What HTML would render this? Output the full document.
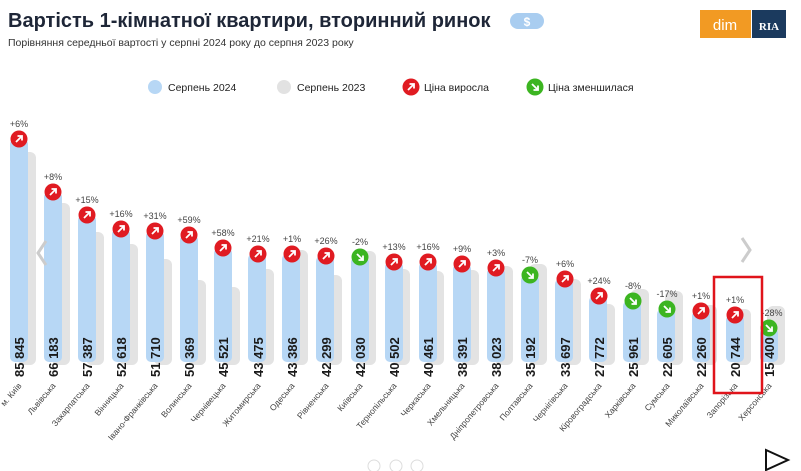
<!DOCTYPE html>
<html><head><meta charset="utf-8"><style>
body{margin:0;background:#fff;}
svg{display:block;font-family:"Liberation Sans",sans-serif;}
</style></head><body>
<svg width="801" height="471" viewBox="0 0 801 471" xmlns="http://www.w3.org/2000/svg">
<defs>
<g id="up"><circle r="8.5" fill="#e01b22"/><path d="M-3,3 L3,-3 M-1.5,-3 H3 V1.5" stroke="#fff" stroke-width="1.8" fill="none"/></g>
<g id="dn"><circle r="8.5" fill="#3cb521"/><path d="M-3,-3 L3,3 M3,-1.5 V3 H-1.5" stroke="#fff" stroke-width="1.8" fill="none"/></g>
</defs>
<text x="8" y="27" font-size="20" font-weight="bold" fill="#1e2637">Вартість 1-кімнатної квартири, вторинний ринок</text>
<rect x="510" y="13" width="34" height="16" rx="8" fill="#a9cdf0"/><text x="527" y="26" font-size="12" font-weight="bold" fill="#fff" text-anchor="middle">$</text>
<text x="8" y="46" font-size="10.5" fill="#333">Порівняння середньої вартості у серпні 2024 року до серпня 2023 року</text>
<rect x="700" y="10" width="51" height="28" fill="#f29a23"/><text x="725" y="30" font-size="15" fill="#fff" text-anchor="middle">dim</text>
<rect x="752" y="10" width="34" height="28" fill="#1b3a5e"/><text x="769" y="30" font-size="11" font-weight="bold" fill="#fff" text-anchor="middle" font-family="Liberation Serif">RIA</text>
<circle cx="155" cy="87" r="7" fill="#b7d7f5"/><text x="168" y="91" font-size="10.5" fill="#222">Серпень 2024</text>
<circle cx="284" cy="87" r="7" fill="#e2e2e2"/><text x="297" y="91" font-size="10.5" fill="#222">Серпень 2023</text>
<use href="#up" x="411" y="87" transform=""/><text x="424" y="91" font-size="10.5" fill="#222">Ціна виросла</text>
<use href="#dn" x="535" y="87"/><text x="548" y="91" font-size="10.5" fill="#222">Ціна зменшилася</text>

<g fill="#e3e3e3">
<rect x="18" y="152" width="18" height="213" rx="6"/>
<rect x="52" y="203" width="18" height="162" rx="6"/>
<rect x="86" y="232" width="18" height="133" rx="6"/>
<rect x="120" y="244" width="18" height="121" rx="6"/>
<rect x="154" y="259" width="18" height="106" rx="6"/>
<rect x="188" y="280" width="18" height="85" rx="6"/>
<rect x="222" y="287" width="18" height="78" rx="6"/>
<rect x="256" y="269" width="18" height="96" rx="6"/>
<rect x="290" y="250" width="18" height="115" rx="6"/>
<rect x="324" y="275" width="18" height="90" rx="6"/>
<rect x="358" y="251" width="18" height="114" rx="6"/>
<rect x="392" y="269" width="18" height="96" rx="6"/>
<rect x="426" y="271" width="18" height="94" rx="6"/>
<rect x="461" y="270" width="18" height="95" rx="6"/>
<rect x="495" y="266" width="18" height="99" rx="6"/>
<rect x="529" y="264" width="18" height="101" rx="6"/>
<rect x="563" y="279" width="18" height="86" rx="6"/>
<rect x="597" y="304" width="18" height="61" rx="6"/>
<rect x="631" y="289" width="18" height="76" rx="6"/>
<rect x="665" y="291" width="18" height="74" rx="6"/>
<rect x="699" y="305" width="18" height="60" rx="6"/>
<rect x="733" y="309" width="18" height="56" rx="6"/>
<rect x="767" y="306" width="18" height="59" rx="6"/>
</g>
<g fill="#b7d7f5">
<rect x="10" y="139" width="18" height="223" rx="5"/>
<rect x="44" y="192" width="18" height="170" rx="5"/>
<rect x="78" y="215" width="18" height="147" rx="5"/>
<rect x="112" y="229" width="18" height="133" rx="5"/>
<rect x="146" y="231" width="18" height="131" rx="5"/>
<rect x="180" y="235" width="18" height="127" rx="5"/>
<rect x="214" y="248" width="18" height="114" rx="5"/>
<rect x="248" y="254" width="18" height="108" rx="5"/>
<rect x="282" y="254" width="18" height="108" rx="5"/>
<rect x="316" y="256" width="18" height="106" rx="5"/>
<rect x="351" y="257" width="18" height="105" rx="5"/>
<rect x="385" y="262" width="18" height="100" rx="5"/>
<rect x="419" y="262" width="18" height="100" rx="5"/>
<rect x="453" y="264" width="18" height="98" rx="5"/>
<rect x="487" y="268" width="18" height="94" rx="5"/>
<rect x="521" y="275" width="18" height="87" rx="5"/>
<rect x="555" y="279" width="18" height="83" rx="5"/>
<rect x="589" y="296" width="18" height="66" rx="5"/>
<rect x="623" y="301" width="18" height="61" rx="5"/>
<rect x="657" y="309" width="18" height="53" rx="5"/>
<rect x="692" y="311" width="18" height="51" rx="5"/>
<rect x="726" y="315" width="18" height="47" rx="5"/>
<rect x="760" y="328" width="18" height="34" rx="5"/>
</g>
<use href="#up" x="19" y="139"/><use href="#up" x="53" y="192"/><use href="#up" x="87" y="215"/><use href="#up" x="121" y="229"/><use href="#up" x="155" y="231"/><use href="#up" x="189" y="235"/><use href="#up" x="223" y="248"/><use href="#up" x="258" y="254"/><use href="#up" x="292" y="254"/><use href="#up" x="326" y="256"/><use href="#dn" x="360" y="257"/><use href="#up" x="394" y="262"/><use href="#up" x="428" y="262"/><use href="#up" x="462" y="264"/><use href="#up" x="496" y="268"/><use href="#dn" x="530" y="275"/><use href="#up" x="565" y="279"/><use href="#up" x="599" y="296"/><use href="#dn" x="633" y="301"/><use href="#dn" x="667" y="309"/><use href="#up" x="701" y="311"/><use href="#up" x="735" y="315"/><use href="#dn" x="769" y="328"/>
<g font-size="9" fill="#444" text-anchor="middle">
<text x="19" y="127">+6%</text><text x="53" y="180">+8%</text><text x="87" y="203">+15%</text><text x="121" y="217">+16%</text><text x="155" y="219">+31%</text><text x="189" y="223">+59%</text><text x="223" y="236">+58%</text><text x="258" y="242">+21%</text><text x="292" y="242">+1%</text><text x="326" y="244">+26%</text><text x="360" y="245">-2%</text><text x="394" y="250">+13%</text><text x="428" y="250">+16%</text><text x="462" y="252">+9%</text><text x="496" y="256">+3%</text><text x="530" y="263">-7%</text><text x="565" y="267">+6%</text><text x="599" y="284">+24%</text><text x="633" y="289">-8%</text><text x="667" y="297">-17%</text><text x="701" y="299">+1%</text><text x="735" y="303">+1%</text><text x="772" y="316">-28%</text>
</g>
<g font-size="13" font-weight="bold" fill="#1a1a1a">
<text transform="translate(24,377) rotate(-90)">85 845</text>
<text transform="translate(58,377) rotate(-90)">66 183</text>
<text transform="translate(92,377) rotate(-90)">57 387</text>
<text transform="translate(126,377) rotate(-90)">52 618</text>
<text transform="translate(160,377) rotate(-90)">51 710</text>
<text transform="translate(194,377) rotate(-90)">50 369</text>
<text transform="translate(228,377) rotate(-90)">45 521</text>
<text transform="translate(263,377) rotate(-90)">43 475</text>
<text transform="translate(297,377) rotate(-90)">43 386</text>
<text transform="translate(331,377) rotate(-90)">42 299</text>
<text transform="translate(365,377) rotate(-90)">42 030</text>
<text transform="translate(399,377) rotate(-90)">40 502</text>
<text transform="translate(433,377) rotate(-90)">40 461</text>
<text transform="translate(467,377) rotate(-90)">38 391</text>
<text transform="translate(501,377) rotate(-90)">38 023</text>
<text transform="translate(535,377) rotate(-90)">35 192</text>
<text transform="translate(570,377) rotate(-90)">33 697</text>
<text transform="translate(604,377) rotate(-90)">27 772</text>
<text transform="translate(638,377) rotate(-90)">25 961</text>
<text transform="translate(672,377) rotate(-90)">22 605</text>
<text transform="translate(706,377) rotate(-90)">22 260</text>
<text transform="translate(740,377) rotate(-90)">20 744</text>
<text transform="translate(774,377) rotate(-90)">15 400</text>
</g>
<g font-size="8.5" fill="#444" text-anchor="end">
<text transform="translate(22,386) rotate(-50)">м. Київ</text>
<text transform="translate(56,386) rotate(-50)">Львівська</text>
<text transform="translate(90,386) rotate(-50)">Закарпатська</text>
<text transform="translate(124,386) rotate(-50)">Вінницька</text>
<text transform="translate(158,386) rotate(-50)">Івано-Франківська</text>
<text transform="translate(192,386) rotate(-50)">Волинська</text>
<text transform="translate(226,386) rotate(-50)">Чернівецька</text>
<text transform="translate(261,386) rotate(-50)">Житомирська</text>
<text transform="translate(295,386) rotate(-50)">Одеська</text>
<text transform="translate(329,386) rotate(-50)">Рівненська</text>
<text transform="translate(363,386) rotate(-50)">Київська</text>
<text transform="translate(397,386) rotate(-50)">Тернопільська</text>
<text transform="translate(431,386) rotate(-50)">Черкаська</text>
<text transform="translate(465,386) rotate(-50)">Хмельницька</text>
<text transform="translate(499,386) rotate(-50)">Дніпропетровська</text>
<text transform="translate(533,386) rotate(-50)">Полтавська</text>
<text transform="translate(568,386) rotate(-50)">Чернігівська</text>
<text transform="translate(602,386) rotate(-50)">Кіровоградська</text>
<text transform="translate(636,386) rotate(-50)">Харківська</text>
<text transform="translate(670,386) rotate(-50)">Сумська</text>
<text transform="translate(704,386) rotate(-50)">Миколаївська</text>
<text transform="translate(738,386) rotate(-50)">Запорізька</text>
<text transform="translate(772,386) rotate(-50)">Херсонська</text>
</g>
<path d="M46,241 L38,253 L46,265" stroke="#ccc" stroke-width="3" fill="none"/>
<path d="M742,238 L750,250 L742,262" stroke="#ccc" stroke-width="3" fill="none"/>
<rect x="714" y="277" width="48" height="116" fill="none" stroke="#e0141b" stroke-width="2.5"/>
<circle cx="374" cy="466" r="6" fill="none" stroke="#ddd"/><circle cx="396" cy="466" r="6" fill="none" stroke="#ddd"/><circle cx="417" cy="466" r="6" fill="none" stroke="#ddd"/>
<path d="M766,450 L788,460 L766,470 Z" fill="none" stroke="#111" stroke-width="2"/>
</svg>
</body></html>
